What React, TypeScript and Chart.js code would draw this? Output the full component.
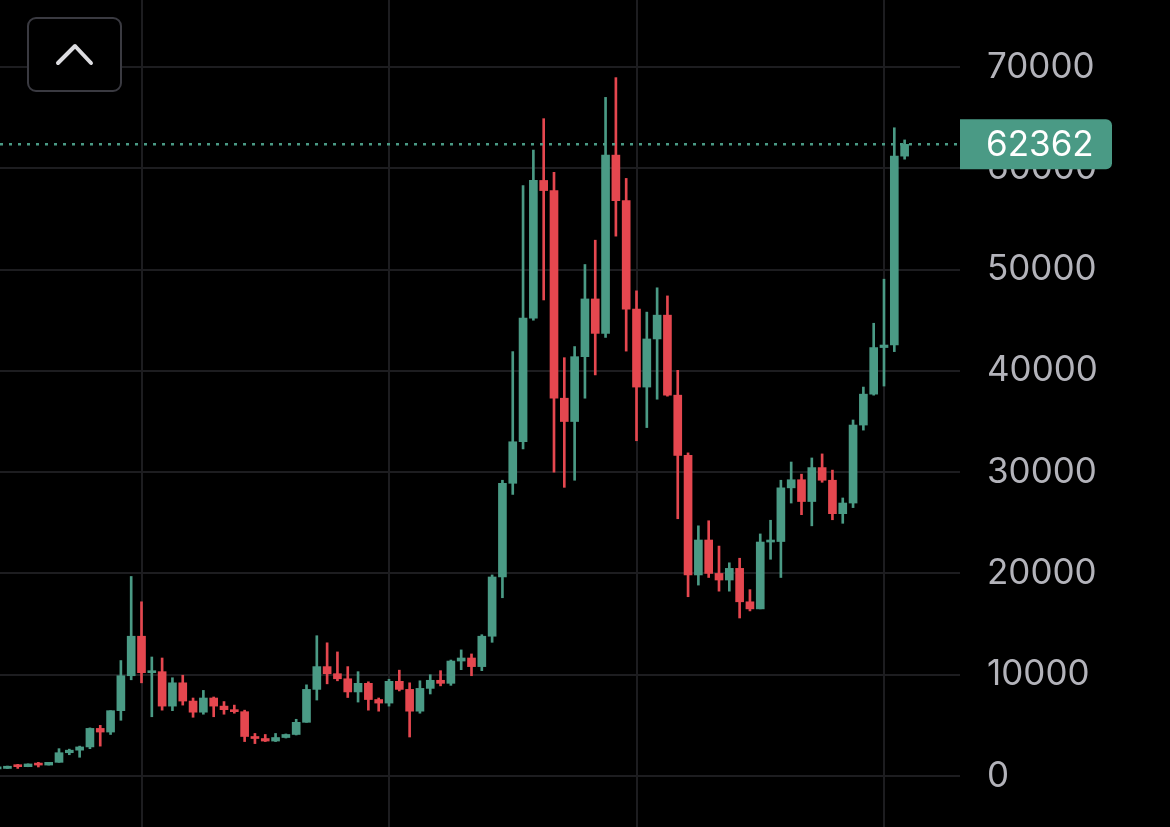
import React, { useEffect, useRef } from "react";
import { Chart, registerables } from "chart.js";

Chart.register(...registerables);

// Monthly candles (YYYY-MM)
const months = [
  "2016-11", "2016-12",
  "2017-01", "2017-02", "2017-03", "2017-04", "2017-05", "2017-06", "2017-07", "2017-08", "2017-09", "2017-10", "2017-11", "2017-12",
  "2018-01", "2018-02", "2018-03", "2018-04", "2018-05", "2018-06", "2018-07", "2018-08", "2018-09", "2018-10", "2018-11", "2018-12",
  "2019-01", "2019-02", "2019-03", "2019-04", "2019-05", "2019-06", "2019-07", "2019-08", "2019-09", "2019-10", "2019-11", "2019-12",
  "2020-01", "2020-02", "2020-03", "2020-04", "2020-05", "2020-06", "2020-07", "2020-08", "2020-09", "2020-10", "2020-11", "2020-12",
  "2021-01", "2021-02", "2021-03", "2021-04", "2021-05", "2021-06", "2021-07", "2021-08", "2021-09", "2021-10", "2021-11", "2021-12",
  "2022-01", "2022-02", "2022-03", "2022-04", "2022-05", "2022-06", "2022-07", "2022-08", "2022-09", "2022-10", "2022-11", "2022-12",
  "2023-01", "2023-02", "2023-03", "2023-04", "2023-05", "2023-06", "2023-07", "2023-08", "2023-09", "2023-10", "2023-11", "2023-12",
  "2024-01", "2024-02", "2024-03",
];

const opens = [
  700, 745,
  970, 920, 1190, 1080, 1350, 2300, 2550, 2870, 4700, 4340, 6450, 9900,
  13800, 10200, 10300, 6900, 9200, 7400, 6300, 7700, 6900, 6550, 6350, 3900,
  3700, 3450, 3800, 4100, 5300, 8550, 10800, 10100, 9600, 8300, 9150, 7550,
  7200, 9350, 8550, 6400, 8650, 9450, 9150, 11350, 11650, 10800, 13800, 19650,
  28900, 33000, 45200, 58800, 57800, 37300, 35000, 41400, 47100, 43700, 61300, 56800,
  46100, 38400, 43150, 45500, 37600, 31650, 19850, 23300, 20000, 19350, 20500, 17200,
  16500, 23100, 23150, 28450, 29250, 27100, 30450, 29200, 25900, 26950, 34650, 37700,
  42300, 42550, 61200,
];

const highs = [
  750, 980,
  1150, 1200, 1350, 1350, 2700, 2650, 2950, 4750, 5000, 6450, 11400, 19700,
  17200, 11750, 11650, 9700, 9950, 7700, 8450, 7800, 7350, 7000, 6500, 4200,
  4100, 4200, 4150, 5600, 9000, 13850, 13150, 12250, 10800, 10300, 9300, 7700,
  9550, 10450, 9200, 9400, 10000, 10400, 11450, 12450, 12050, 13950, 19850, 29200,
  41900, 58300, 61800, 64900, 59600, 41300, 42400, 50500, 52900, 67000, 68950, 59000,
  47900, 45800, 48200, 47400, 40050, 31900, 24700, 25200, 22700, 21050, 21500, 18400,
  23900, 25250, 29200, 31000, 29800, 31400, 31800, 30200, 27450, 35150, 38400, 44700,
  49050, 64000, 62800,
];

const lows = [
  690, 740,
  750, 915, 890, 1080, 1350, 2100, 1850, 2700, 2950, 4100, 5500, 9500,
  9200, 5850, 6500, 6450, 7000, 5800, 6100, 5850, 6100, 6200, 3400, 3200,
  3400, 3400, 3750, 4050, 5300, 7500, 9100, 9400, 7750, 7300, 6500, 6400,
  6900, 8400, 3850, 6200, 8100, 8900, 8950, 10500, 9900, 10400, 13200, 17600,
  27800, 32300, 45000, 47000, 30000, 28500, 29200, 37300, 39600, 43300, 53300, 41950,
  33100, 34400, 37200, 37500, 25400, 17700, 18850, 19600, 18250, 18250, 15600, 16300,
  16500, 21400, 19600, 26950, 25800, 24700, 29000, 25300, 24950, 26500, 34150, 37600,
  38500, 41900, 60900,
];

const closes = [
  745, 965,
  920, 1190, 1080, 1350, 2300, 2550, 2870, 4700, 4340, 6450, 9900, 13800,
  10200, 10300, 6900, 9200, 7400, 6300, 7700, 6900, 6550, 6350, 3900, 3700,
  3450, 3800, 4100, 5300, 8550, 10800, 10100, 9600, 8300, 9150, 7550, 7200,
  9350, 8550, 6400, 8650, 9450, 9150, 11350, 11650, 10800, 13800, 19650, 28900,
  33000, 45200, 58800, 57800, 37300, 35000, 41400, 47100, 43700, 61300, 56800, 46100,
  38400, 43150, 45500, 37600, 31650, 19850, 23300, 20000, 19350, 20500, 17200, 16500,
  23100, 23150, 28450, 29250, 27100, 30450, 29200, 25900, 26950, 34650, 37700, 42300,
  42550, 61200, 62362,
];

const yTickValues = [0, 10000, 20000, 30000, 40000, 50000, 60000, 70000];
const gridMonths = ["2018-01", "2020-01", "2022-01", "2024-01"];
const lastPrice = 62362;

const GREEN = "#4a9a85";
const RED = "#e5474f";
const GRID = "#1d1d20";
const LABEL = "#b3b3ba";
const FONT = "Inter, 'Noto Sans', sans-serif";

function monthIndex(label: string): number {
  const [y, m] = label.split("-").map(Number);
  return (y - 2018) * 12 + (m - 1);
}

const priceTagPlugin = {
  id: "priceTag",
  afterDatasetsDraw(chart: any) {
    const { ctx, chartArea, scales } = chart;
    const py = scales.y.getPixelForValue(lastPrice);
    ctx.save();
    ctx.strokeStyle = GREEN;
    ctx.lineWidth = 2.5;
    ctx.setLineDash([3, 6]);
    ctx.beginPath();
    ctx.moveTo(chartArea.left, py);
    ctx.lineTo(chartArea.right, py);
    ctx.stroke();
    ctx.setLineDash([]);
    const bx = chartArea.right;
    const bw = 152;
    const bh = 50;
    ctx.fillStyle = GREEN;
    ctx.beginPath();
    (ctx as any).roundRect(bx, py - bh / 2, bw, bh, [0, 6, 6, 0]);
    ctx.fill();
    ctx.fillStyle = "#ffffff";
    ctx.font = `35px ${FONT}`;
    ctx.textAlign = "left";
    ctx.textBaseline = "middle";
    ctx.fillText(String(lastPrice), bx + 26, py + 1);
    ctx.restore();
  },
};

export default function App() {
  const canvasRef = useRef<HTMLCanvasElement | null>(null);

  useEffect(() => {
    document.body.style.margin = "0";
    document.body.style.background = "#000";
    const canvas = canvasRef.current;
    if (!canvas) return;

    const colors = closes.map((c, i) => (c >= opens[i] ? GREEN : RED));
    const bodyData = months.map((m, i) => ({ x: monthIndex(m), y: [opens[i], closes[i]] }));
    const wickData = months.map((m, i) => ({ x: monthIndex(m), y: [lows[i], highs[i]] }));

    const pxPerMonth = 10.3125;
    const janX = 141.5;
    const plotRight = 960;

    const chart = new Chart(canvas, {
      type: "bar",
      data: {
        datasets: [
          {
            data: bodyData as any,
            backgroundColor: colors,
            barThickness: 8,
            minBarLength: 2,
            grouped: false,
          } as any,
          {
            data: wickData as any,
            backgroundColor: colors,
            barThickness: 2,
            grouped: false,
          } as any,
        ],
      },
      options: {
        animation: false,
        responsive: true,
        maintainAspectRatio: false,
        layout: { padding: 0 },
        plugins: { legend: { display: false }, tooltip: { enabled: false } },
        scales: {
          x: {
            type: "linear",
            offset: false,
            min: -janX / pxPerMonth,
            max: (plotRight - janX) / pxPerMonth,
            ticks: { display: false },
            grid: { color: GRID, lineWidth: 2, drawTicks: false, offset: false },
            border: { display: false },
            afterBuildTicks: (scale: any) => {
              scale.ticks = gridMonths.map((m) => ({ value: monthIndex(m) }));
            },
            afterFit: (scale: any) => {
              scale.height = 0;
              scale.paddingLeft = 0;
              scale.paddingRight = 0;
              scale.paddingTop = 0;
              scale.paddingBottom = 0;
            },
          },
          y: {
            type: "linear",
            position: "right",
            min: -5035,
            max: 76615,
            afterBuildTicks: (scale: any) => {
              scale.ticks = yTickValues.map((v) => ({ value: v }));
            },
            afterFit: (scale: any) => {
              scale.width = 1170 - plotRight;
              scale.paddingTop = 0;
              scale.paddingBottom = 0;
              scale.paddingLeft = 0;
              scale.paddingRight = 0;
            },
            ticks: {
              color: LABEL,
              padding: 27,
              font: { family: FONT, size: 35 },
              callback: (v: any) => String(v),
            },
            grid: { color: GRID, lineWidth: 2, drawTicks: false },
            border: { display: false },
          },
        },
      } as any,
      plugins: [priceTagPlugin],
    });

    return () => chart.destroy();
  }, []);

  return (
    <div style={{ position: "relative", width: 1170, height: 827, background: "#000", overflow: "hidden" }}>
      <canvas ref={canvasRef} style={{ display: "block" }} />
      <div
        style={{
          position: "absolute",
          left: 27,
          top: 17,
          width: 95,
          height: 75,
          boxSizing: "border-box",
          border: "2px solid #3a3a41",
          borderRadius: 9,
          background: "#000",
        }}
      >
        <svg width="91" height="71" style={{ display: "block" }}>
          <polyline
            points="29,44 46,27 62,44"
            fill="none"
            stroke="#dcdce0"
            strokeWidth="4"
            strokeLinecap="round"
            strokeLinejoin="round"
          />
        </svg>
      </div>
    </div>
  );
}
